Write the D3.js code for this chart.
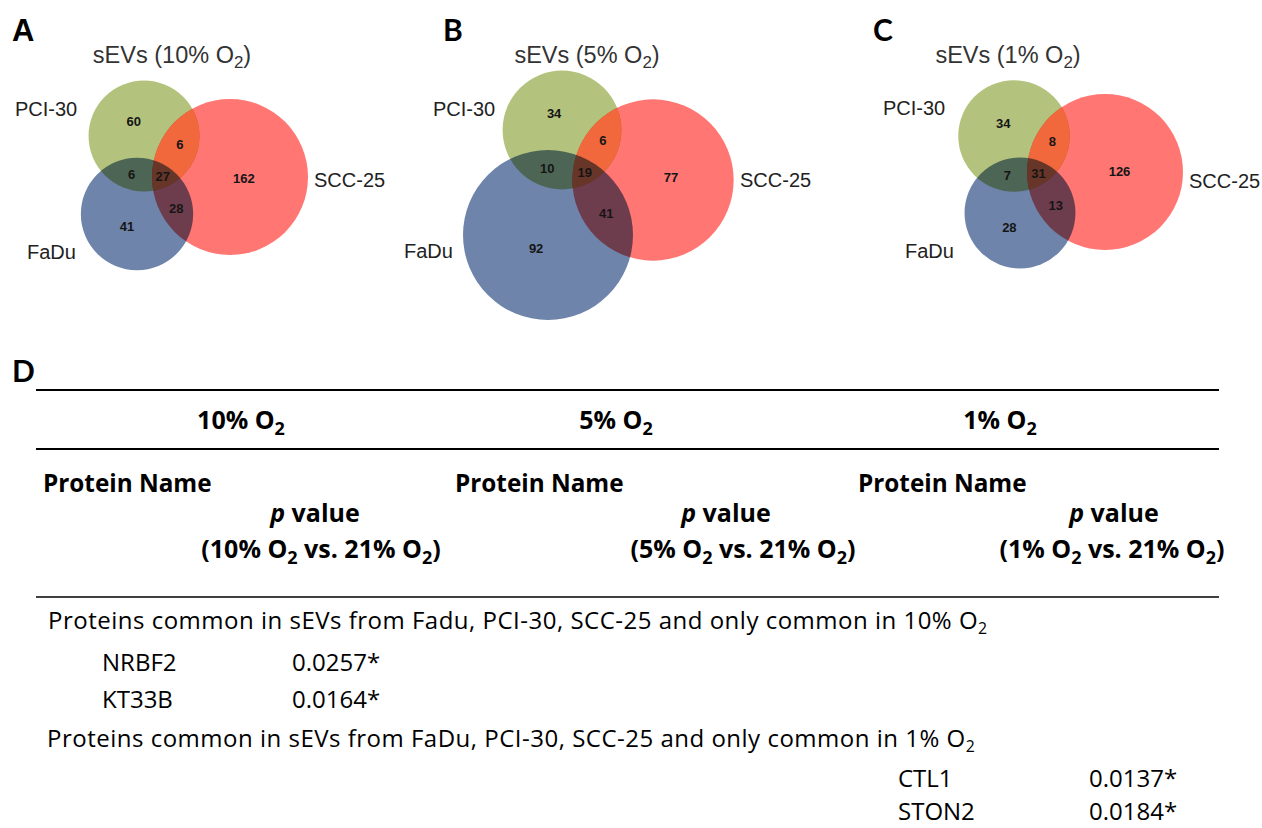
<!DOCTYPE html>
<html>
<head>
<meta charset="utf-8">
<script src="https://cdn.jsdelivr.net/npm/d3@7"></script>
<style>
  body { margin: 0; background: #fff; }
</style>
</head>
<body>
<svg id="chart" width="1262" height="828"></svg>
<script>
// ---- data ----
var setNames = ["PCI-30", "SCC-25", "FaDu"];
var setKeys = ["P", "S", "F"];
var regions = ["P", "S", "F", "PS", "PF", "SF", "PSF"];
var counts10 = [60, 162, 41, 6, 6, 28, 27];
var counts5 = [34, 77, 92, 6, 10, 41, 19];
var counts1 = [34, 126, 28, 8, 7, 13, 31];
var conditions = ["10%", "5%", "1%"];
var panelLetters = ["A", "B", "C"];

var common10Names = ["NRBF2", "KT33B"];
var common10P = ["0.0257*", "0.0164*"];
var common1Names = ["CTL1", "STON2"];
var common1P = ["0.0137*", "0.0184*"];

// ---- layout (pixels) ----
var panelLayout = [
  { x0: 0, centers: { P: [144, 136], S: [230, 177], F: [137, 214] }, rMax: 78,
    title: 172, letter: 12, lab: { P: [15, 116], S: [314, 187], F: [27, 259] } },
  { x0: 0, centers: { P: [562, 130], S: [653, 180], F: [548, 235] }, rMax: 85,
    title: 587, letter: 443, lab: { P: [433, 116], S: [740, 187], F: [404, 258] } },
  { x0: 0, centers: { P: [1014, 136], S: [1105, 172], F: [1020, 213] }, rMax: 78,
    title: 1008, letter: 873, lab: { P: [883, 115], S: [1189, 188], F: [905, 258] } }
];

var colGreen = "#b3c37d", colRed = "#ff7673", colOrange = "#f0683c", colBlue = "#6e84aa";
var vennFont = "'Liberation Sans', Arial, sans-serif";
var tabFont = "'Open Sans', Lato, sans-serif";
var letterFont = "Lato, 'Open Sans', sans-serif";

var svg = d3.select("#chart");
var defs = svg.append("defs");

// text with subscripts / italics, parts: [{t, sub, it}]
function rich(g, x, y, size, parts, attrs, subScale) {
  var t = g.append("text").attr("x", x).attr("y", y).attr("font-size", size);
  Object.keys(attrs || {}).forEach(function(k){ t.attr(k, attrs[k]); });
  var shift = size * 0.22, wasSub = false;
  parts.forEach(function(p){
    var ts = t.append("tspan").text(p.t);
    if (p.it) ts.attr("font-style", "italic");
    if (p.sub) {
      ts.attr("font-size", size * (subScale || 0.66)).attr("dy", shift);
      wasSub = true;
    } else if (wasSub) {
      ts.attr("dy", -shift);
      wasSub = false;
    }
  });
  return t;
}

function totalOf(key, counts) {
  return d3.sum(regions, function(r, i){ return r.indexOf(key) >= 0 ? counts[i] : 0; });
}

var allCounts = [counts10, counts5, counts1];

allCounts.forEach(function(counts, pi){
  var L = panelLayout[pi];
  var g = svg.append("g").attr("class", "venn");
  var totals = setKeys.map(function(k){ return totalOf(k, counts); });
  var rScale = d3.scalePow().exponent(0.42).domain([0, d3.max(totals)]).range([0, L.rMax]);
  var xs = d3.scaleLinear().domain([0, 1]).range([L.x0, L.x0 + 1]);

  var circles = setKeys.map(function(k, i){
    return { key: k, name: setNames[i], cx: xs(L.centers[k][0]), cy: L.centers[k][1], r: rScale(totals[i]) };
  });
  var byKey = {};
  circles.forEach(function(c){ byKey[c.key] = c; });

  var clipId = "clipP" + pi;
  defs.append("clipPath").attr("id", clipId).append("circle")
    .attr("cx", byKey.P.cx).attr("cy", byKey.P.cy).attr("r", byKey.P.r);

  var shapes = g.append("g").style("isolation", "isolate");
  shapes.append("circle").attr("cx", byKey.P.cx).attr("cy", byKey.P.cy).attr("r", byKey.P.r)
    .attr("fill", colGreen);
  shapes.append("circle").attr("cx", byKey.S.cx).attr("cy", byKey.S.cy).attr("r", byKey.S.r)
    .attr("fill", colRed).style("mix-blend-mode", "multiply");
  shapes.append("circle").attr("cx", byKey.S.cx).attr("cy", byKey.S.cy).attr("r", byKey.S.r)
    .attr("fill", colOrange).attr("clip-path", "url(#" + clipId + ")");
  shapes.append("circle").attr("cx", byKey.F.cx).attr("cy", byKey.F.cy).attr("r", byKey.F.r)
    .attr("fill", colBlue).style("mix-blend-mode", "multiply");

  // region label positions = centroid of each region
  var sums = {};
  regions.forEach(function(r){ sums[r] = [0, 0, 0]; });
  var x1 = d3.min(circles, function(c){ return c.cx - c.r; }), x2 = d3.max(circles, function(c){ return c.cx + c.r; });
  var y1 = d3.min(circles, function(c){ return c.cy - c.r; }), y2 = d3.max(circles, function(c){ return c.cy + c.r; });
  for (var x = x1; x <= x2; x += 1) {
    for (var y = y1; y <= y2; y += 1) {
      var code = "";
      circles.forEach(function(c){
        if ((x - c.cx) * (x - c.cx) + (y - c.cy) * (y - c.cy) < c.r * c.r) code += c.key;
      });
      if (sums[code]) { sums[code][0] += x; sums[code][1] += y; sums[code][2] += 1; }
    }
  }

  g.selectAll("text.count").data(regions).enter().append("text")
    .attr("class", "count")
    .attr("x", function(r){ return sums[r][0] / sums[r][2]; })
    .attr("y", function(r){ return sums[r][1] / sums[r][2]; })
    .attr("dy", "0.36em")
    .attr("text-anchor", "middle")
    .attr("font-family", vennFont).attr("font-weight", "bold").attr("font-size", 13)
    .attr("fill", "#151515")
    .text(function(r, i){ return counts[i]; });

  // set labels
  circles.forEach(function(c){
    g.append("text").attr("x", L.lab[c.key][0]).attr("y", L.lab[c.key][1])
      .attr("font-family", vennFont).attr("font-size", 20).attr("fill", "#222")
      .text(c.name);
  });

  // title
  rich(g, L.title, 63, 23.5, [{ t: "sEVs (" + conditions[pi] + " O" }, { t: "2", sub: true }, { t: ")" }],
    { "text-anchor": "middle", "font-family": vennFont, "fill": "#333" }, 0.72);

  // panel letter
  g.append("text").attr("x", L.letter).attr("y", 41)
    .attr("font-family", pi === 0 ? vennFont : letterFont).attr("font-weight", "bold")
    .attr("font-size", pi === 0 ? 31 : 30).attr("fill", "#000")
    .text(panelLetters[pi]);
});

// ---- table D ----
var tab = svg.append("g").attr("class", "table").attr("font-family", tabFont).attr("fill", "#000");

tab.append("text").attr("x", 12).attr("y", 382).attr("font-family", letterFont)
  .attr("font-weight", "bold").attr("font-size", 30).text("D");

var ruleY = [390, 449, 597];
var ruleW = [2.2, 2.2, 1.3];
tab.selectAll("line.rule").data(ruleY).enter().append("line")
  .attr("class", "rule")
  .attr("x1", 36).attr("x2", 1219)
  .attr("y1", function(d){ return d; }).attr("y2", function(d){ return d; })
  .attr("stroke", "#000").attr("stroke-width", function(d, i){ return ruleW[i]; });

var colCenter = [241, 616, 1000];
var nameX = [43, 455, 858];
var pCenter = [315, 726, 1114];
var subCenter = [321, 743, 1112];

conditions.forEach(function(c, i){
  rich(tab, colCenter[i], 429, 25, [{ t: c + " O" }, { t: "2", sub: true }],
    { "text-anchor": "middle", "font-weight": "bold" }, 0.72);
  tab.append("text").attr("x", nameX[i]).attr("y", 492).attr("font-size", 24.3).attr("font-weight", "bold")
    .text("Protein Name");
  rich(tab, pCenter[i], 522, 25, [{ t: "p", it: true }, { t: " value" }],
    { "text-anchor": "middle", "font-weight": "bold" });
  rich(tab, subCenter[i], 558, 25,
    [{ t: "(" + c + " O" }, { t: "2", sub: true }, { t: " vs. 21% O" }, { t: "2", sub: true }, { t: ")" }],
    { "text-anchor": "middle", "font-weight": "bold" }, 0.72);
});

rich(tab, 48, 629, 24,
  [{ t: "Proteins common in sEVs from Fadu, PCI-30, SCC-25 and only common in 10% O" }, { t: "2", sub: true }],
  { "letter-spacing": 0.5 });
tab.selectAll("text.n10").data(common10Names).enter().append("text")
  .attr("class", "n10").attr("x", 102).attr("y", function(d, i){ return 671 + i * 37; })
  .attr("font-size", 24).text(function(d){ return d; });
tab.selectAll("text.p10").data(common10P).enter().append("text")
  .attr("class", "p10").attr("x", 292).attr("y", function(d, i){ return 671 + i * 37; })
  .attr("font-size", 24).text(function(d){ return d; });

rich(tab, 47, 747, 24,
  [{ t: "Proteins common in sEVs from FaDu, PCI-30, SCC-25 and only common in 1% O" }, { t: "2", sub: true }],
  { "letter-spacing": 0.5 });
tab.selectAll("text.n1").data(common1Names).enter().append("text")
  .attr("class", "n1").attr("x", 898).attr("y", function(d, i){ return 787 + i * 33; })
  .attr("font-size", 24).text(function(d){ return d; });
tab.selectAll("text.p1").data(common1P).enter().append("text")
  .attr("class", "p1").attr("x", 1089).attr("y", function(d, i){ return 787 + i * 33; })
  .attr("font-size", 24).text(function(d){ return d; });
</script>
</body>
</html>
